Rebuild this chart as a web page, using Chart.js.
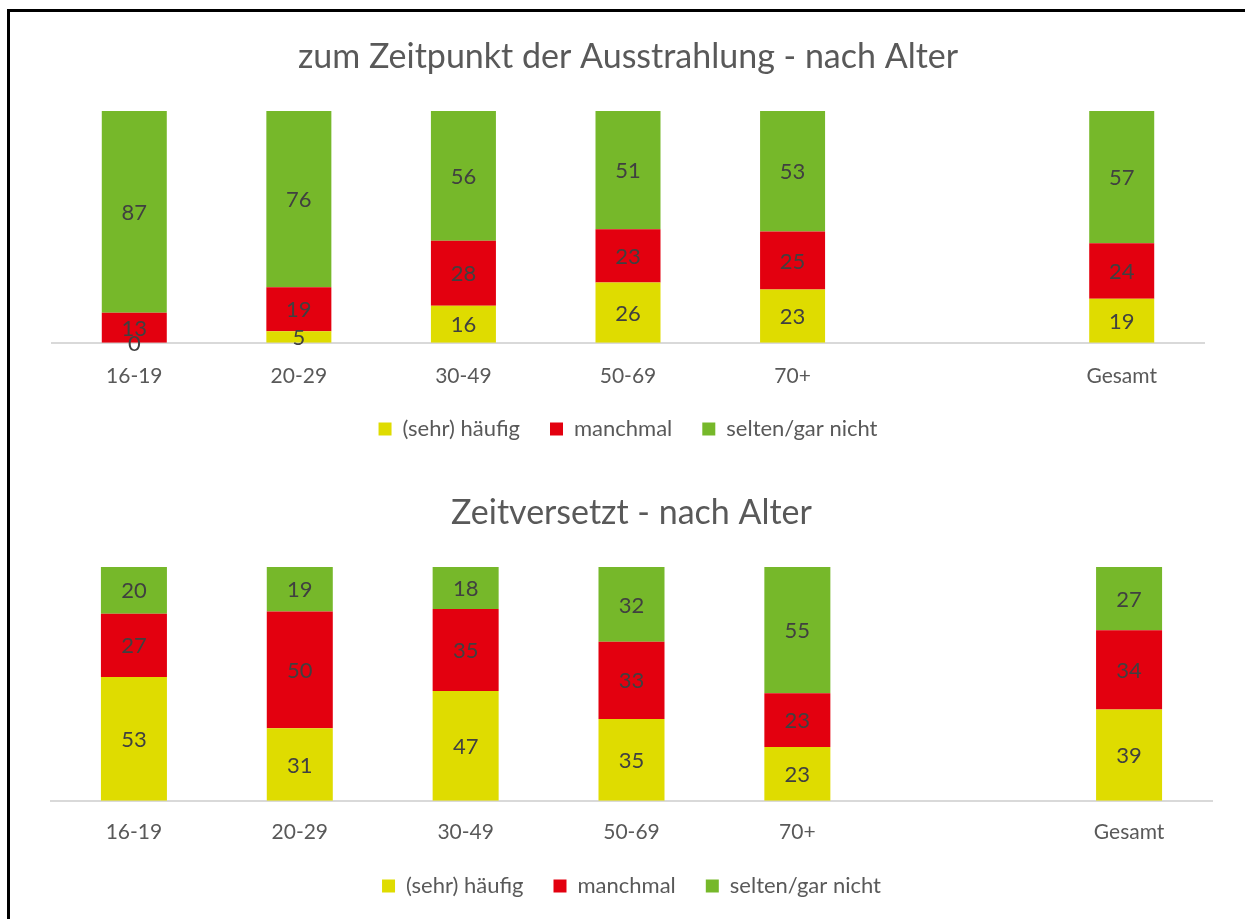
<!DOCTYPE html>
<html>
<head>
<meta charset="utf-8">
<script src="https://cdn.jsdelivr.net/npm/chart.js@4.4.1/dist/chart.umd.min.js"></script>
<style>
  html, body { margin: 0; padding: 0; background: #fff; overflow: hidden; }
  #frame { position: absolute; left: 7px; top: 9px; width: 1300px; height: 1000px; border: 3px solid #000; box-sizing: border-box; }
  .wrap { position: absolute; left: 0; width: 1245px; }
  #w1 { top: 0; height: 460px; }
  #w2 { top: 460px; height: 459px; }
</style>
</head>
<body>
<div id="frame"></div>
<div class="wrap" id="w1"><canvas id="c1"></canvas></div>
<div class="wrap" id="w2"><canvas id="c2"></canvas></div>
<script>
const categories = ['16-19', '20-29', '30-49', '50-69', '70+', '', 'Gesamt'];
const seriesNames = ['(sehr) häufig', 'manchmal', 'selten/gar nicht'];
const title1 = 'zum Zeitpunkt der Ausstrahlung - nach Alter';
const title2 = 'Zeitversetzt - nach Alter';

const live_haeufig = [0, 5, 16, 26, 23, null, 19];
const live_manchmal = [13, 19, 28, 23, 25, null, 24];
const live_selten = [87, 76, 56, 51, 53, null, 57];

const zv_haeufig = [53, 31, 47, 35, 23, null, 39];
const zv_manchmal = [27, 50, 35, 33, 23, null, 34];
const zv_selten = [20, 19, 18, 32, 55, null, 27];

const COLORS = ['#dfdc00', '#e3000f', '#76b82a'];
const FONT = 'Lato, "Open Sans", sans-serif';
const TXT = '#595959';

const labelPlugin = {
  id: 'segLabels',
  afterDatasetsDraw(chart) {
    const ctx = chart.ctx;
    ctx.save();
    ctx.font = '22px ' + FONT;
    ctx.fillStyle = '#404040';
    ctx.textAlign = 'center';
    ctx.textBaseline = 'middle';
    chart.data.datasets.forEach((ds, di) => {
      const meta = chart.getDatasetMeta(di);
      meta.data.forEach((el, i) => {
        const v = ds.data[i];
        if (v === null || v === undefined) return;
        const top = Math.max(el.y, chart.chartArea.top);
        ctx.fillText(String(v), el.x, (top + el.base) / 2 + 1);
      });
    });
    ctx.restore();
  }
};

function makeChart(id, title, d1, d2, d3, cfg) {
  return new Chart(document.getElementById(id), {
    type: 'bar',
    data: {
      labels: categories,
      datasets: [
        { label: seriesNames[0], data: d1, backgroundColor: COLORS[0] },
        { label: seriesNames[1], data: d2, backgroundColor: COLORS[1] },
        { label: seriesNames[2], data: d3, backgroundColor: COLORS[2] }
      ]
    },
    options: {
      responsive: true,
      maintainAspectRatio: false,
      animation: false,
      datasets: { bar: { categoryPercentage: 1, barPercentage: cfg.barPct } },
      layout: { padding: cfg.pad },
      scales: {
        x: {
          stacked: true,
          grid: { display: false, drawTicks: false },
          border: { display: true, color: '#d9d9d9', width: 2 },
          ticks: { color: TXT, font: { family: FONT, size: 21 }, padding: cfg.tickPad },
          afterFit(scale) { scale.height -= cfg.shrink; }
        },
        y: { stacked: true, display: false, min: 0, max: 100 }
      },
      plugins: {
        title: {
          display: true, text: title, color: TXT,
          font: { family: FONT, size: 34, weight: 'normal' },
          padding: cfg.titlePad
        },
        legend: {
          position: 'bottom',
          labels: {
            color: TXT, font: { family: FONT, size: 22 },
            boxWidth: 13, boxHeight: 13, padding: 30
          }
        },
        tooltip: { enabled: false }
      }
    },
    plugins: [labelPlugin]
  });
}

makeChart('c1', title1, live_haeufig, live_manchmal, live_selten, {
  pad: { left: 52, right: 41, top: 20, bottom: 10 }, barPct: 0.395,
  titlePad: { top: 16.6, bottom: 33.6 }, tickPad: 21, shrink: 22
});
makeChart('c2', title2, zv_haeufig, zv_manchmal, zv_selten, {
  pad: { left: 51, right: 33, top: 12, bottom: 12 }, barPct: 0.398,
  titlePad: { top: 20.6, bottom: 33.6 }, tickPad: 19, shrink: 19
});
</script>
</body>
</html>
